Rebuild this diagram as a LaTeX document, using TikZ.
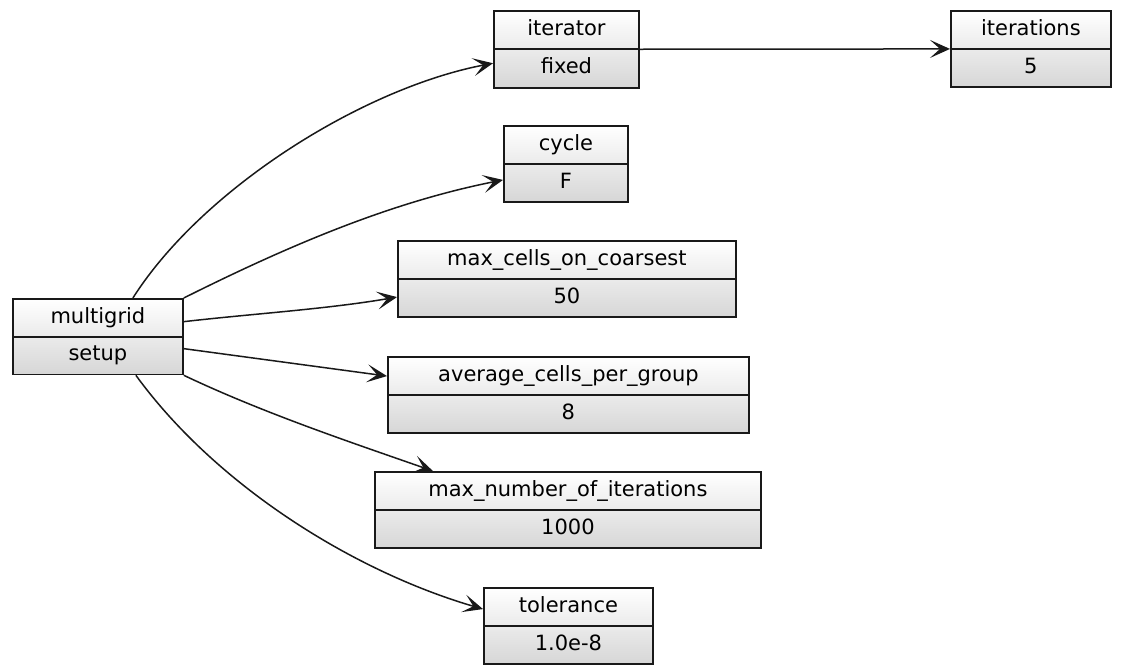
\documentclass[tikz,border=0pt]{standalone}
\usepackage{fontspec}
\setmainfont{DejaVu Sans}
\usetikzlibrary{shapes.multipart,arrows.meta,calc}
\definecolor{ink}{RGB}{25,25,25}
\newcommand\ps{\rule[-5pt]{0pt}{19pt}}
\tikzset{
  cls/.style={rectangle split, rectangle split parts=2, draw=ink, line width=1.8pt,
    top color=white, bottom color=black!16, font=\fontsize{21}{23}\selectfont,
    inner ysep=7.8pt, inner xsep=4pt, align=center, anchor=north west},
  link/.style={draw=ink, line width=1.5pt,
    -{Stealth[length=20pt,width=18pt,inset=10pt]}},
}
\begin{document}
\begin{tikzpicture}[x=1pt,y=-1pt]
\fill[white] (0,0) rectangle (1122,666);
\useasboundingbox (0,0) rectangle (1122,666);

% classes
\node[cls, minimum width=170pt] (mg)   at (12,298)  {\ps multigrid \nodepart{two} \ps setup};
\node[cls, minimum width=145pt] (it)   at (493,10)  {\ps iterator \nodepart{two} \ps fixed};
\node[cls, minimum width=160pt] (its)  at (950,10)  {\ps iterations \nodepart{two} \ps 5};
\node[cls, minimum width=124pt] (cy)   at (503,125) {\ps cycle \nodepart{two} \ps F};
\node[cls, minimum width=338pt] (mc)   at (397,240) {\ps max\_cells\_on\_coarsest \nodepart{two} \ps 50};
\node[cls, minimum width=361pt] (av)   at (387,356) {\ps average\_cells\_per\_group \nodepart{two} \ps 8};
\node[cls, minimum width=386pt] (mn)   at (374,471) {\ps max\_number\_of\_iterations \nodepart{two} \ps 1000};
\node[cls, minimum width=169pt] (tol)  at (483,587) {\ps tolerance \nodepart{two} \ps 1.0e-8};

% associations
\draw[link] ([xshift=35pt]mg.north) .. controls +(70,-110) and +(-130,25) .. ([yshift=-14pt]it.west);
\draw[link] (mg.north east) .. controls +(110,-55) and +(-110,22) .. ([yshift=-16pt]cy.west);
\draw[link] ([yshift=15pt]mg.east) .. controls +(70,-8) and +(-70,12) .. ([yshift=-18pt]mc.west);
\draw[link] ([yshift=-12pt]mg.east) -- ([yshift=19pt]av.west);
\draw[link] (mg.south east) .. controls +(80,38) and +(-80,-28) .. ([xshift=-135pt]mn.north);
\draw[link] ([xshift=38pt]mg.south) .. controls +(80,110) and +(-130,-38) .. ([yshift=17pt]tol.west);
\draw[link] (it.east) -- (its.west);
\end{tikzpicture}
\end{document}
